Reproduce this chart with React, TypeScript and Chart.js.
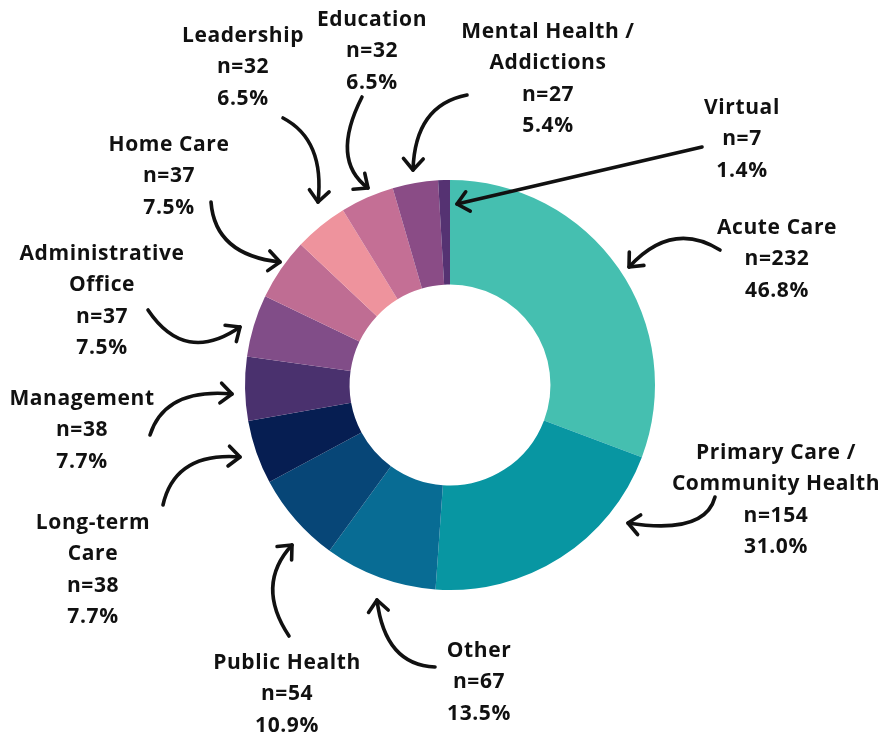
import React, { useEffect, useRef } from "react";
import { Chart, registerables } from "chart.js";

Chart.register(...registerables);

const categories = [
  "Acute Care",
  "Primary Care / Community Health",
  "Other",
  "Public Health",
  "Long-term Care",
  "Management",
  "Administrative Office",
  "Home Care",
  "Leadership",
  "Education",
  "Mental Health / Addictions",
  "Virtual",
];
const counts = [232, 154, 67, 54, 38, 38, 37, 37, 32, 32, 27, 7];
const percents = ["46.8%", "31.0%", "13.5%", "10.9%", "7.7%", "7.7%", "7.5%", "7.5%", "6.5%", "6.5%", "5.4%", "1.4%"];
const labelLines = [
  ["Acute Care"],
  ["Primary Care /", "Community Health"],
  ["Other"],
  ["Public Health"],
  ["Long-term", "Care"],
  ["Management"],
  ["Administrative", "Office"],
  ["Home Care"],
  ["Leadership"],
  ["Education"],
  ["Mental Health /", "Addictions"],
  ["Virtual"],
];
const colors = [
  "#45BFB0",
  "#0896A2",
  "#086C94",
  "#074677",
  "#061E52",
  "#4A316E",
  "#814D88",
  "#BF6D93",
  "#EE939D",
  "#C46F95",
  "#8A4C86",
  "#553272",
];

// annotation layout, relative to doughnut centre: label first-line centre, arrow start / control / tip
const layoutCfg = [
  { lx: 327, ly: -157, a: [270, -135, 222, -165, 179, -118] },
  { lx: 326, ly: 68, a: [265, 112, 255, 150, 178, 138] },
  { lx: 29, ly: 266, a: [-15, 282, -65, 280, -73, 215] },
  { lx: -163, ly: 278, a: [-161, 251, -195, 200, -158, 160] },
  { lx: -357, ly: 138, a: [-287, 120, -275, 67, -210, 72] },
  { lx: -368, ly: 14, a: [-300, 50, -285, 3, -218, 9] },
  { lx: -348, ly: -131, a: [-302, -75, -265, -20, -210, -58] },
  { lx: -281, ly: -240, a: [-239, -183, -235, -130, -170, -123] },
  { lx: -207, ly: -349, a: [-167, -267, -125, -245, -132, -183] },
  { lx: -78, ly: -365, a: [-88, -288, -120, -225, -82, -197] },
  { lx: 98, ly: -353, a: [17, -290, -35, -280, -37, -215] },
  { lx: 292, ly: -277, a: [252, -238, 130, -210, 7, -181] },
];

const LINE_H = 31.5;
const FONT = "700 21px 'Open Sans'";

const annotationPlugin = {
  id: "annotations",
  afterDatasetsDraw(chart: any) {
    const ctx = chart.ctx as CanvasRenderingContext2D;
    const meta = chart.getDatasetMeta(0);
    const arc0 = meta.data[0];
    const cx = arc0.x;
    const cy = arc0.y;
    ctx.save();
    ctx.fillStyle = "#111111";
    ctx.font = FONT;
    (ctx as any).letterSpacing = "0.6px";
    ctx.textAlign = "center";
    ctx.textBaseline = "middle";
    categories.forEach((_, i) => {
      const L = layoutCfg[i];
      const lines = [...labelLines[i], "n=" + counts[i], percents[i]];
      lines.forEach((t, k) => {
        ctx.fillText(t, cx + L.lx, cy + L.ly + k * LINE_H);
      });
      const [sx, sy, qx, qy, ex, ey] = L.a;
      ctx.strokeStyle = "#111111";
      ctx.lineWidth = 3.6;
      ctx.lineCap = "round";
      ctx.lineJoin = "round";
      ctx.beginPath();
      ctx.moveTo(cx + sx, cy + sy);
      ctx.quadraticCurveTo(cx + qx, cy + qy, cx + ex, cy + ey);
      ctx.stroke();
      const ang = Math.atan2(ey - qy, ex - qx);
      const hl = 15;
      const spread = 0.72;
      ctx.beginPath();
      ctx.moveTo(cx + ex - hl * Math.cos(ang - spread), cy + ey - hl * Math.sin(ang - spread));
      ctx.lineTo(cx + ex, cy + ey);
      ctx.lineTo(cx + ex - hl * Math.cos(ang + spread), cy + ey - hl * Math.sin(ang + spread));
      ctx.stroke();
    });
    ctx.restore();
  },
};

export default function App() {
  const ref = useRef<HTMLCanvasElement | null>(null);
  useEffect(() => {
    if (!ref.current) return;
    const chart = new Chart(ref.current, {
      type: "doughnut",
      data: {
        labels: categories,
        datasets: [
          {
            data: counts,
            backgroundColor: colors,
            borderWidth: 0,
          },
        ],
      },
      options: {
        responsive: false,
        animation: false,
        cutout: "49%",
        layout: { padding: { left: 245, right: 239, top: 180, bottom: 147 } },
        plugins: {
          legend: { display: false },
          tooltip: { enabled: false },
        },
      },
      plugins: [annotationPlugin],
    });
    return () => chart.destroy();
  }, []);
  return (
    <div style={{ position: "absolute", left: 0, top: 0, width: 894, height: 737, background: "#ffffff" }}>
      <canvas ref={ref} width={894} height={737} style={{ display: "block" }} />
    </div>
  );
}
